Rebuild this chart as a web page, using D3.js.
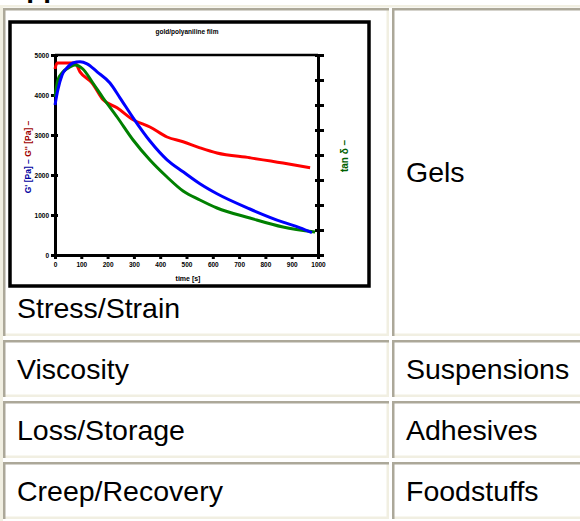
<!DOCTYPE html>
<html>
<head>
<script src="https://d3js.org/d3.v7.min.js"></script>
<style>
  body, html { margin: 0; padding: 0; background: #fff; overflow: hidden; }
  text { font-family: "Liberation Sans", Arial, sans-serif; }
</style>
</head>
<body>
<svg id="page" width="580" height="521"></svg>
<script>
// table text
var tableRows = [
  ["Stress/Strain", "Gels"],
  ["Viscosity", "Suspensions"],
  ["Loss/Storage", "Adhesives"],
  ["Creep/Recovery", "Foodstuffs"]
];
var heading = "Applications";

// chart text
var chartTitle = "gold/polyaniline film";
var xTitle = "time [s]";
var leftTitleBlue = "G' [Pa] \u2013";
var leftTitleRed = "G'' [Pa] \u2013";
var rightTitle = "tan \u03b4 \u2013";

// ticks
var xTicks = [0, 100, 200, 300, 400, 500, 600, 700, 800, 900, 1000];
var leftTicks = [0, 1000, 2000, 3000, 4000, 5000];
var rightTicks = [0, 1, 2, 3, 4, 5, 6, 7, 8];

// series (red, blue on left axis; green on right axis)
var redX = [0, 8, 76, 95, 141, 183, 236, 297, 361, 426, 487, 551, 616, 741, 867, 970];
var redY = [4650, 4800, 4800, 4580, 4300, 3880, 3680, 3380, 3200, 2950, 2830, 2680, 2550, 2430, 2300, 2180];

var blueX = [0, 11, 27, 46, 68, 95, 122, 160, 209, 247, 297, 361, 426, 487, 551, 616, 741, 867, 932, 977];
var blueY = [3750, 4130, 4500, 4680, 4800, 4830, 4780, 4580, 4300, 3930, 3430, 2850, 2380, 2080, 1780, 1530, 1150, 820, 680, 560];

var greenX = [0, 11, 30, 57, 76, 106, 144, 183, 236, 297, 361, 426, 487, 551, 616, 741, 867, 989];
var greenY = [6.32, 7.0, 7.32, 7.52, 7.6, 7.44, 6.88, 6.28, 5.52, 4.6, 3.8, 3.12, 2.56, 2.2, 1.88, 1.48, 1.12, 0.92];

var svg = d3.select("#page");
var dark = "#aca899", light = "#f1efe2";

// cut-off heading above the table (only its descenders show, as in the page)
svg.append("text").attr("x", 6).attr("y", -3)
  .attr("font-size", 28).attr("font-weight", "bold").text(heading);

// table outer (light) border
svg.append("rect").attr("x", 0).attr("y", 5).attr("width", 3).attr("height", 521).attr("fill", light);
svg.append("rect").attr("x", 0).attr("y", 5).attr("width", 580).attr("height", 2.5).attr("fill", light);

var colLeft = [3, 392], colRight = [389, 600];
var rowTop = [8, 340, 401, 462], rowBottom = [336, 397, 458, 519];

tableRows.forEach(function (row, i) {
  row.forEach(function (txt, j) {
    var x0 = colLeft[j], x1 = colRight[j], y0 = rowTop[i], y1 = rowBottom[i];
    var g = svg.append("g");
    g.append("rect").attr("x", x0).attr("y", y0).attr("width", x1 - x0).attr("height", y1 - y0).attr("fill", "#fff");
    g.append("rect").attr("x", x0).attr("y", y1 - 2.5).attr("width", x1 - x0).attr("height", 2.5).attr("fill", light);
    g.append("rect").attr("x", x1 - 2.5).attr("y", y0).attr("width", 2.5).attr("height", y1 - y0).attr("fill", light);
    g.append("rect").attr("x", x0).attr("y", y0).attr("width", x1 - x0).attr("height", 2.5).attr("fill", dark);
    g.append("rect").attr("x", x0).attr("y", y0).attr("width", 2.5).attr("height", y1 - y0).attr("fill", dark);
    var base;
    if (i === 0 && j === 0) base = 318;
    else base = (y0 + y1) / 2 + 10;
    g.append("text").attr("x", x0 + 14).attr("y", base)
      .attr("font-size", 28.5).attr("fill", "#000").text(txt);
  });
});

// ---- chart picture inside first cell ----
var chart = svg.append("g");
chart.append("rect").attr("x", 10).attr("y", 22).attr("width", 359).attr("height", 264)
  .attr("fill", "#fff").attr("stroke", "#000").attr("stroke-width", 3.5);

var plot = { left: 55, right: 318, top: 55, bottom: 255 };
var x = d3.scaleLinear().domain([0, 1000]).range([plot.left, plot.right]);
var yL = d3.scaleLinear().domain([0, 5000]).range([plot.bottom, plot.top]);
var yR = d3.scaleLinear().domain([0, 8]).range([plot.bottom, plot.top]);

chart.append("text").attr("x", 187).attr("y", 34).attr("text-anchor", "middle")
  .attr("font-size", 6.5).attr("font-weight", "bold").attr("fill", "#000").text(chartTitle);

// top frame line of plot
chart.append("line").attr("x1", plot.left).attr("x2", plot.right)
  .attr("y1", plot.top).attr("y2", plot.top).attr("stroke", "#000").attr("stroke-width", 2.5);

function styleAxis(g) {
  g.select(".domain").attr("stroke", "#000").attr("stroke-width", 3);
  g.selectAll(".tick line").attr("stroke", "#000").attr("stroke-width", 3);
  g.selectAll(".tick text").attr("font-size", 6.5).attr("font-weight", "bold")
    .attr("font-family", "Liberation Sans, Arial, sans-serif").attr("fill", "#000");
}

var ax = chart.append("g").attr("transform", "translate(0," + plot.bottom + ")")
  .call(d3.axisBottom(x).tickValues(xTicks).tickSizeOuter(0).tickSize(4).tickPadding(3).tickFormat(d3.format("d")));
styleAxis(ax);

var al = chart.append("g").attr("transform", "translate(" + plot.left + ",0)")
  .call(d3.axisLeft(yL).tickValues(leftTicks).tickSizeOuter(0).tickSize(4).tickPadding(2).tickFormat(d3.format("d")));
styleAxis(al);
al.selectAll(".tick line").attr("x2", -4).attr("x1", 3);

var ar = chart.append("g").attr("transform", "translate(" + plot.right + ",0)")
  .call(d3.axisRight(yR).tickValues(rightTicks).tickSizeOuter(0).tickSize(6).tickPadding(1).tickFormat(""));
styleAxis(ar);
ar.selectAll(".tick line").attr("x1", -3);

// axis titles
chart.append("text").attr("x", 188).attr("y", 281).attr("text-anchor", "middle")
  .attr("font-size", 7).attr("font-weight", "bold").text(xTitle);

var lt = chart.append("text").attr("transform", "translate(31,157) rotate(-90)")
  .attr("text-anchor", "middle").attr("font-size", 8.5).attr("font-weight", "bold");
lt.append("tspan").attr("fill", "#0000a0").text(leftTitleBlue + " ");
lt.append("tspan").attr("fill", "#a00000").text(leftTitleRed);

chart.append("text").attr("transform", "translate(348,156) rotate(-90)")
  .attr("text-anchor", "middle").attr("font-size", 10).attr("font-weight", "bold")
  .attr("fill", "#006000").text(rightTitle);

// curves
function drawSeries(xs, ys, yScale, color) {
  var pts = xs.map(function (d, i) { return [d, ys[i]]; });
  chart.append("path").datum(pts)
    .attr("fill", "none").attr("stroke", color).attr("stroke-width", 3)
    .attr("d", d3.line().x(function (d) { return x(d[0]); }).y(function (d) { return yScale(d[1]); }).curve(d3.curveMonotoneX));
}
drawSeries(redX, redY, yL, "#ff0000");
drawSeries(greenX, greenY, yR, "#008000");
drawSeries(blueX, blueY, yL, "#0000ff");
</script>
</body>
</html>
